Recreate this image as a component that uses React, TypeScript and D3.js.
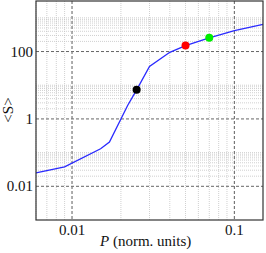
import React from 'react';
import * as d3 from 'd3';

// curve samples (P in norm. units, <S>)
const pValues = [0.006, 0.009, 0.015, 0.017, 0.022, 0.025, 0.03, 0.04, 0.05, 0.07, 0.1, 0.15];
const sValues = [0.025, 0.038, 0.13, 0.205, 2.5, 7.3, 36, 95, 150, 255, 420, 640];

// highlighted points
const dotP = [0.025, 0.05, 0.07];
const dotS = [7.3, 150, 255];
const dotColors = ['#000000', '#ff0000', '#00ee00'];

const xTicks = [0.01, 0.1];
const xTickLabels = ['0.01', '0.1'];
const yTicks = [0.01, 1, 100];
const yTickLabels = ['0.01', '1', '100'];

const xMinor = [0.006, 0.007, 0.008, 0.009, 0.02, 0.03, 0.04, 0.05, 0.06, 0.07, 0.08, 0.09];
const yMinorDecades = [0.01, 1, 100];
const yMinorSubs = [2, 3, 4, 5, 6, 7, 8, 9, 10];

const App = () => {
  const width = 266;
  const height = 253;
  const margin = { top: 1, right: 3, bottom: 33, left: 36 };
  const textStyle = { fontFamily: "'Liberation Serif', 'DejaVu Serif', 'Times New Roman', Times, serif", fontSize: '15px' };

  const x = d3
    .scaleLog()
    .domain([0.006, 0.15])
    .range([margin.left, width - margin.right]);

  const y = d3
    .scaleLog()
    .domain([0.001, Math.pow(10, 3.5)])
    .range([height - margin.bottom, margin.top]);

  const data = pValues.map((p, i) => ({ p, s: sValues[i] }));
  const line = d3
    .line<{ p: number; s: number }>()
    .x((d) => x(d.p))
    .y((d) => y(d.s));

  const yMinor: number[] = [];
  yMinorDecades.forEach((dec) => yMinorSubs.forEach((k) => yMinor.push(dec * k)));

  const x0 = margin.left;
  const x1 = width - margin.right;
  const y0 = margin.top;
  const y1 = height - margin.bottom;

  return (
    <svg
      width={width}
      height={height}
      style={{ position: 'absolute', left: 0, top: 0, background: '#fff' }}
    >
      {/* minor grid */}
      {yMinor.map((v, i) => (
        <line
          key={'ym' + i}
          x1={x0}
          x2={x1}
          y1={y(v)}
          y2={y(v)}
          stroke="#c4c4c4"
          strokeWidth={0.8}
          strokeDasharray="1,1"
        />
      ))}
      {xMinor.map((v, i) => (
        <line
          key={'xm' + i}
          x1={x(v)}
          x2={x(v)}
          y1={y0}
          y2={y1}
          stroke="#c4c4c4"
          strokeWidth={0.8}
          strokeDasharray="1,1"
        />
      ))}
      {/* major grid */}
      {yTicks.map((v, i) => (
        <line
          key={'yM' + i}
          x1={x0}
          x2={x1}
          y1={y(v)}
          y2={y(v)}
          stroke="#666"
          strokeWidth={1}
          strokeDasharray="3,2"
        />
      ))}
      {xTicks.map((v, i) => (
        <line
          key={'xM' + i}
          x1={x(v)}
          x2={x(v)}
          y1={y0}
          y2={y1}
          stroke="#777"
          strokeWidth={1.2}
          strokeDasharray="3,2"
        />
      ))}

      <path d={line(data) || ''} fill="none" stroke="#2a2aff" strokeWidth={1.3} />

      {dotP.map((p, i) => (
        <circle key={'d' + i} cx={x(p)} cy={y(dotS[i])} r={4} fill={dotColors[i]} />
      ))}

      {/* frame */}
      <rect
        x={x0}
        y={y0}
        width={x1 - x0}
        height={y1 - y0}
        fill="none"
        stroke="#333"
        strokeWidth={1.2}
      />

      {/* tick labels */}
      {xTicks.map((v, i) => (
        <text key={'xl' + i} x={x(v)} y={y1 + 15} textAnchor="middle" style={textStyle} fill="#111">
          {xTickLabels[i]}
        </text>
      ))}
      {yTicks.map((v, i) => (
        <text key={'yl' + i} x={x0 - 3} y={y(v) + 5} textAnchor="end" style={textStyle} fill="#111">
          {yTickLabels[i]}
        </text>
      ))}

      {/* axis titles */}
      <text x={100} y={246} style={textStyle} fill="#111">
        <tspan fontStyle="italic">P</tspan> (norm. units)
      </text>
      <text transform="translate(13,110) rotate(-90)" textAnchor="middle" style={textStyle} fill="#111">
        {'<S>'}
      </text>
    </svg>
  );
};

export default App;
